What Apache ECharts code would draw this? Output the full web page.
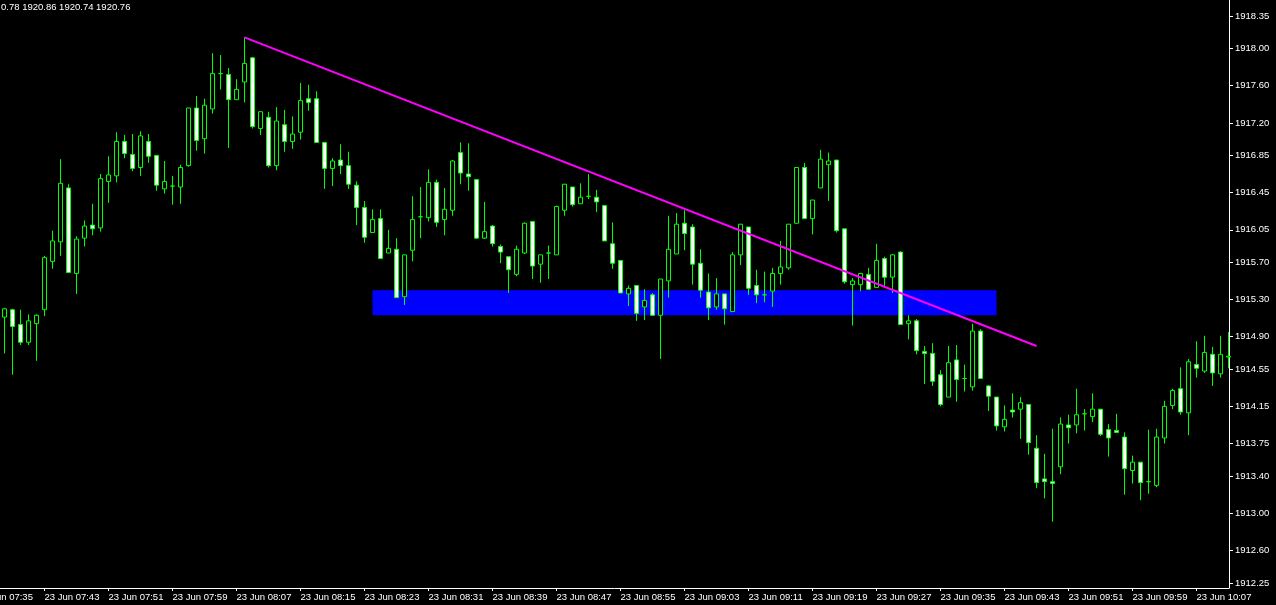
<!DOCTYPE html>
<html><head><meta charset="utf-8">
<script src="https://cdn.jsdelivr.net/npm/echarts@6/dist/echarts.min.js"></script>
<style>html,body{margin:0;padding:0;background:#000;overflow:hidden}#c{width:1276px;height:605px;background:#000}</style>
</head><body><div id="c"></div>
<script>
// 1-minute candles, 23 Jun 07:38 .. 10:11 (index 0 = 07:38)
const opens = [1915.11,1915.19,1915.03,1914.84,1915.04,1915.19,1915.71,1915.92,1916.50,1915.58,
1915.96,1916.10,1916.07,1916.57,1916.63,1917.00,1916.86,1916.72,1917.00,1916.85,
1916.49,1916.52,1916.51,1916.74,1917.36,1917.03,1917.35,1917.73,1917.72,1917.45,
1917.64,1917.90,1917.14,1917.26,1916.74,1917.18,1917.00,1917.10,1917.46,1917.46,
1916.99,1916.71,1916.80,1916.74,1916.53,1916.29,1916.02,1916.17,1915.80,1915.84,
1915.33,1915.83,1916.19,1916.18,1916.56,1916.16,1916.26,1916.88,1916.65,1916.59,
1915.96,1916.09,1915.87,1915.76,1915.57,1915.80,1916.14,1915.68,1915.80,1915.78,
1916.26,1916.51,1916.33,1916.41,1916.40,1916.31,1915.90,1915.72,1915.36,1915.45,
1915.22,1915.35,1915.13,1915.50,1915.79,1916.12,1916.08,1915.69,1915.38,1915.22,
1915.36,1915.17,1915.78,1916.08,1915.45,1915.35,1915.39,1915.58,1915.64,1916.12,
1916.72,1916.17,1916.50,1916.75,1916.80,1916.06,1915.46,1915.46,1915.57,1915.43,
1915.74,1915.54,1915.81,1915.04,1915.07,1914.74,1914.72,1914.49,1914.25,1914.65,
1914.45,1914.36,1914.96,1914.37,1914.25,1913.93,1914.11,1914.12,1914.17,1913.70,
1913.37,1913.34,1913.50,1913.95,1913.95,1914.07,1914.04,1914.12,1913.90,1913.89,
1913.82,1913.46,1913.55,1913.34,1913.30,1913.81,1914.16,1914.34,1914.08,1914.60,
1914.53,1914.71,1914.50,1914.68];
const closes = [1915.20,1915.01,1914.84,1915.07,1915.13,1915.75,1915.93,1916.55,1915.59,1915.95,
1916.09,1916.06,1916.60,1916.64,1917.00,1916.87,1916.71,1917.06,1916.84,1916.53,
1916.57,1916.52,1916.72,1917.36,1917.01,1917.39,1917.73,1917.73,1917.45,1917.56,
1917.84,1917.16,1917.32,1916.74,1917.22,1917.00,1917.08,1917.44,1917.42,1916.99,
1916.71,1916.79,1916.74,1916.54,1916.29,1915.97,1916.16,1915.74,1915.85,1915.32,
1915.78,1916.16,1916.19,1916.56,1916.13,1916.27,1916.79,1916.66,1916.62,1915.96,
1916.03,1915.90,1915.81,1915.62,1915.84,1916.12,1915.66,1915.78,1915.80,1916.30,
1916.54,1916.32,1916.40,1916.41,1916.35,1915.93,1915.69,1915.37,1915.42,1915.15,
1915.29,1915.13,1915.52,1915.84,1916.11,1916.01,1915.68,1915.40,1915.21,1915.36,
1915.20,1915.78,1916.11,1915.42,1915.35,1915.35,1915.58,1915.65,1916.11,1916.72,
1916.17,1916.37,1916.81,1916.79,1916.04,1915.49,1915.50,1915.58,1915.41,1915.72,
1915.54,1915.78,1915.03,1915.07,1914.75,1914.72,1914.42,1914.17,1914.62,1914.44,
1914.45,1914.96,1914.45,1914.26,1913.94,1914.01,1914.09,1914.19,1913.76,1913.33,
1913.34,1913.32,1913.96,1913.92,1914.06,1914.07,1914.12,1913.85,1913.81,1913.87,
1913.48,1913.55,1913.33,1913.34,1913.82,1914.15,1914.32,1914.09,1914.63,1914.56,
1914.73,1914.51,1914.71,1914.69];
const lows = [1914.72,1914.49,1914.81,1914.81,1914.64,1915.12,1915.63,1915.77,1915.59,1915.36,
1915.87,1915.99,1916.03,1916.34,1916.56,1916.82,1916.68,1916.63,1916.77,1916.47,
1916.44,1916.32,1916.33,1916.73,1916.90,1916.87,1917.30,1917.56,1916.93,1917.45,
1917.42,1917.14,1917.07,1916.72,1916.69,1916.89,1916.92,1917.02,1917.33,1916.99,
1916.49,1916.52,1916.65,1916.49,1916.10,1915.91,1916.02,1915.74,1915.80,1915.32,
1915.24,1915.71,1915.96,1916.14,1916.08,1915.99,1916.20,1916.54,1916.47,1915.95,
1915.95,1915.87,1915.69,1915.37,1915.55,1915.79,1915.52,1915.48,1915.52,1915.78,
1916.20,1916.30,1916.33,1916.38,1916.24,1915.93,1915.63,1915.37,1915.23,1915.07,
1915.08,1915.13,1914.66,1915.32,1915.79,1915.83,1915.46,1915.32,1915.08,1915.19,
1915.03,1915.17,1915.67,1915.35,1915.26,1915.27,1915.22,1915.46,1915.62,1916.12,
1916.17,1916.00,1916.50,1916.36,1916.02,1915.47,1915.02,1915.39,1915.41,1915.43,
1915.43,1915.37,1915.03,1914.87,1914.71,1914.39,1914.37,1914.15,1914.25,1914.20,
1914.31,1914.32,1914.45,1914.10,1913.89,1913.88,1914.03,1913.80,1913.63,1913.27,
1913.16,1912.91,1913.42,1913.75,1913.86,1913.89,1913.98,1913.83,1913.61,1913.87,
1913.20,1913.32,1913.14,1913.21,1913.28,1913.75,1914.12,1914.06,1913.84,1914.46,
1914.51,1914.37,1914.46,1914.56];
const highs = [1915.21,1915.20,1915.19,1915.14,1915.14,1915.77,1916.04,1916.81,1916.54,1915.98,
1916.15,1916.33,1916.65,1916.84,1917.10,1917.07,1917.08,1917.11,1917.08,1916.85,
1916.79,1916.63,1916.75,1917.36,1917.49,1917.46,1917.95,1917.93,1917.79,1917.67,
1918.12,1917.91,1917.32,1917.32,1917.37,1917.34,1917.27,1917.63,1917.61,1917.54,
1916.99,1916.82,1916.97,1916.89,1916.57,1916.36,1916.27,1916.27,1916.05,1915.96,
1915.78,1916.41,1916.51,1916.70,1916.59,1916.50,1916.80,1916.99,1916.98,1916.59,
1916.35,1916.10,1915.89,1915.76,1915.88,1916.13,1916.14,1915.78,1915.88,1916.31,
1916.54,1916.51,1916.55,1916.65,1916.48,1916.31,1916.13,1915.72,1915.45,1915.45,
1915.41,1915.37,1915.52,1916.20,1916.23,1916.26,1916.11,1915.84,1915.58,1915.53,
1915.36,1915.81,1916.11,1916.08,1915.62,1915.60,1915.64,1915.93,1916.11,1916.72,
1916.77,1916.37,1916.91,1916.88,1916.80,1916.06,1915.53,1915.58,1915.64,1915.90,
1915.76,1915.79,1915.82,1915.13,1915.09,1914.80,1914.83,1914.54,1914.80,1914.81,
1914.60,1915.04,1914.98,1914.38,1914.25,1914.16,1914.29,1914.25,1914.17,1913.84,
1913.64,1913.91,1914.03,1914.06,1914.34,1914.12,1914.29,1914.12,1913.96,1914.07,
1913.87,1913.62,1913.55,1913.90,1913.91,1914.21,1914.34,1914.57,1914.66,1914.85,
1914.91,1914.79,1914.91,1914.95];

const xTickIndex = [5,13,21,29,37,45,53,61,69,77,85,93,101,109,117,125,133,141,149];
const xTickLabels = ['23 Jun 07:43','23 Jun 07:51','23 Jun 07:59','23 Jun 08:07','23 Jun 08:15','23 Jun 08:23',
  '23 Jun 08:31','23 Jun 08:39','23 Jun 08:47','23 Jun 08:55','23 Jun 09:03','23 Jun 09:11','23 Jun 09:19',
  '23 Jun 09:27','23 Jun 09:35','23 Jun 09:43','23 Jun 09:51','23 Jun 09:59','23 Jun 10:07'];
const cutLabel = '23 Jun 07:35';
const yTickValues = [1918.35,1918.00,1917.60,1917.20,1916.85,1916.45,1916.05,1915.70,1915.30,
  1914.90,1914.55,1914.15,1913.75,1913.40,1913.00,1912.60,1912.25];
const zoneX = [46, 124];
const zoneY = [1915.13, 1915.40];
const trendX = [30, 129];
const trendY = [1918.12, 1914.80];
const header = '0.78 1920.86 1920.74 1920.76';

const FONT = 'Liberation Sans, Arial, sans-serif';
const candleData = opens.map((o, i) => [i, o, closes[i], lows[i], highs[i]]);

const chart = echarts.init(document.getElementById('c'), null, {renderer: 'canvas'});
chart.setOption({
  backgroundColor: '#000000',
  animation: false,
  grid: {left: 0, right: 47, top: 0, bottom: 17, containLabel: false},
  xAxis: {
    type: 'value', min: -0.5625, max: 153.0625,
    axisLine: {show: true, onZero: false, lineStyle: {color: '#ffffff', width: 1}},
    axisTick: {show: true, length: 3, lineStyle: {color: '#ffffff'}, customValues: xTickIndex},
    axisLabel: {
      show: true, customValues: xTickIndex, align: 'left', margin: 4,
      color: '#ffffff', fontSize: 9.5, fontFamily: FONT,
      formatter: v => xTickLabels[xTickIndex.indexOf(Math.round(v))] || ''
    },
    splitLine: {show: false}
  },
  yAxis: {
    type: 'value', position: 'right', min: 1912.196, max: 1918.522, scale: true,
    axisLine: {show: true, onZero: false, lineStyle: {color: '#ffffff', width: 1}},
    axisTick: {show: true, length: 4, lineStyle: {color: '#ffffff'}, customValues: yTickValues},
    axisLabel: {
      show: true, customValues: yTickValues, margin: 6, color: '#ffffff',
      fontSize: 9.5, fontFamily: FONT, formatter: v => v.toFixed(2)
    },
    splitLine: {show: false}
  },
  graphic: [
    {type: 'text', x: 1, y: 2, style: {text: header, fill: '#ffffff', font: '9.5px ' + FONT}},
    {type: 'text', x: -22, y: 592, style: {text: cutLabel, fill: '#ffffff', font: '9.5px ' + FONT}}
  ],
  series: [
    {
      type: 'custom', z: 1, silent: true,
      data: [[zoneX[0], zoneY[1], zoneX[1], zoneY[0]]],
      encode: {x: [0, 2], y: [1, 3]},
      renderItem: (params, api) => {
        const p0 = api.coord([api.value(0), api.value(1)]);
        const p1 = api.coord([api.value(2), api.value(3)]);
        return {type: 'rect', shape: {x: p0[0], y: p0[1], width: p1[0] - p0[0], height: p1[1] - p0[1]},
          style: {fill: '#0000ff'}};
      }
    },
    {
      type: 'candlestick', z: 2, silent: true, barWidth: 4,
      data: candleData,
      encode: {x: 0, y: [1, 2, 3, 4]},
      itemStyle: {color: '#000000', color0: '#ffffff', borderColor: '#00ff00', borderColor0: '#00ff00',
        borderColorDoji: '#00ff00', borderWidth: 1},
      emphasis: {disabled: true}
    },
    {
      type: 'line', z: 3, silent: true, symbol: 'none',
      data: trendX.map((x, i) => [x, trendY[i]]),
      lineStyle: {color: '#ff00ff', width: 2}
    }
  ]
});
</script>
</body></html>
